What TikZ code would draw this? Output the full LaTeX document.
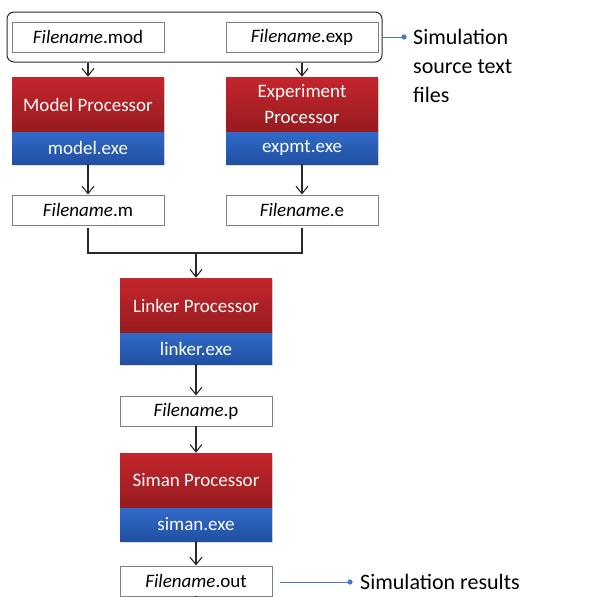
\documentclass[tikz,border=0pt]{standalone}
\usepackage{fontspec}
\setmainfont{Carlito}
\usetikzlibrary{arrows.meta,shadows}
\definecolor{redtop}{HTML}{C4262C}
\definecolor{redbot}{HTML}{961B1F}
\definecolor{bluetop}{HTML}{306AC9}
\definecolor{bluebot}{HTML}{2150A2}
\definecolor{annblue}{HTML}{4A78C8}
\definecolor{boxline}{HTML}{808080}
\definecolor{arrline}{HTML}{2A2A2A}
\tikzset{
  x=1pt, y=-1pt,
  filebox/.style={draw=boxline, line width=0.9pt, fill=white, minimum width=152pt, minimum height=30pt, inner sep=0pt, font=\fontsize{19}{21}\selectfont},
  procbox/.style={top color=redtop, bottom color=redbot, draw=none, text=white, minimum width=152pt, minimum height=55pt, inner sep=0pt, align=center, font=\fontsize{19}{26}\selectfont, drop shadow={shadow xshift=1pt, shadow yshift=-1.5pt, opacity=0.25}},
  exebox/.style={top color=bluetop, bottom color=bluebot, draw=none, text=white, minimum width=152pt, inner sep=0pt, font=\fontsize{19}{21}\selectfont, drop shadow={shadow xshift=1pt, shadow yshift=-1.5pt, opacity=0.25}},
  flow/.style={draw=arrline, line width=1.1pt, -{Straight Barb[length=7.5pt,width=12pt,line width=1.1pt]}},
  plain/.style={draw=arrline, line width=1.1pt},
  ann/.style={draw=annblue, line width=1pt},
  anntext/.style={font=\fontsize{22}{29}\selectfont, align=left, inner sep=0pt},
}
\begin{document}
\begin{tikzpicture}
\useasboundingbox (0,0) rectangle (593,597);
% source group
\node[draw=arrline, line width=1pt, rounded corners=7pt, minimum width=375pt, minimum height=50pt, inner sep=0pt] (src) at (194.5,37) {};
\node[filebox] (fmod) at (88,37) {\textit{Filename}.mod};
\node[filebox] (fexp) at (302,37) {\textit{Filename}.exp};
% processors
\node[procbox] (mp) at (88,104.5) {Model Processor};
\node[exebox, minimum height=32pt] (mpe) at (88,148) {model.exe};
\node[procbox] (ep) at (302,104.5) {Experiment\\Processor};
\node[exebox, minimum height=32pt] (epe) at (302,148) {expmt.exe};
\node[filebox] (fm) at (88,210) {\textit{Filename}.m};
\node[filebox] (fe) at (302,210) {\textit{Filename}.e};
\coordinate (join) at (196,253);
\node[procbox] (lp) at (196,305.5) {Linker Processor};
\node[exebox, minimum height=31pt] (lpe) at (196,348.5) {linker.exe};
\node[filebox] (fp) at (196,411) {\textit{Filename}.p};
\node[procbox] (sp) at (196,480.5) {Siman Processor};
\node[exebox, minimum height=33pt] (spe) at (196,524.5) {siman.exe};
\node[filebox] (fo) at (196,581) {\textit{Filename}.out};
\coordinate (tail) at (196,600);
% connectors
\draw[flow] (fmod |- src.south) -- (mp.north);
\draw[flow] (fexp |- src.south) -- (ep.north);
\draw[flow] (mpe.south) -- (fm.north);
\draw[flow] (epe.south) -- (fe.north);
\draw[plain, shorten <=3pt] (fm.south) |- (join);
\draw[plain, shorten <=3pt] (fe.south) |- (join);
\draw[flow] (join) -- (lp.north);
\draw[flow] (lpe.south) -- (fp.north);
\draw[flow] (fp.south) -- (sp.north);
\draw[flow] (spe.south) -- (fo.north);
\draw[plain] (fo.south) -- (tail);
% annotations
\coordinate (d1) at (404,37);
\draw[ann] (src.east |- d1) -- (d1);
\fill[annblue] (d1) circle (2.6pt);
\node[anntext, anchor=west] (t1) at (413,66) {Simulation\\source text\\files};
\coordinate (r0) at (280,582);
\coordinate (d2) at (350,582);
\draw[ann] (r0) -- (d2);
\fill[annblue] (d2) circle (2.6pt);
\node[anntext, anchor=west] (t2) at (360,582) {Simulation results};
\end{tikzpicture}
\end{document}
